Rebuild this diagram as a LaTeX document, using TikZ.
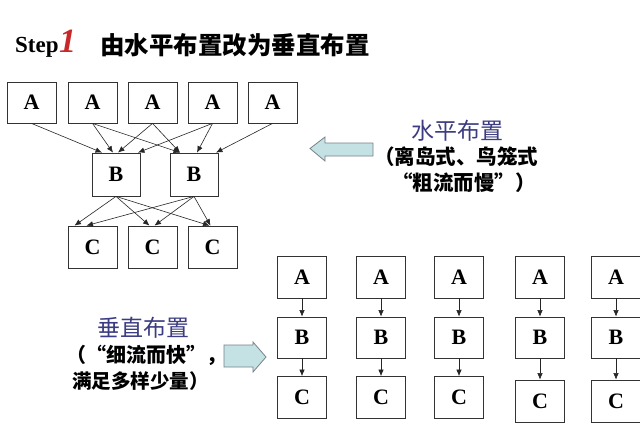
\documentclass[tikz,border=0pt]{standalone}
\usepackage{fontspec}
\setmainfont{Liberation Serif}
\newfontfamily\cjk{Noto Sans CJK SC}
\usetikzlibrary{arrows.meta}
\definecolor{labblue}{RGB}{60,60,130}
\definecolor{arrfill}{RGB}{196,226,228}
\definecolor{arrline}{RGB}{120,130,135}
\definecolor{stepred}{RGB}{200,40,40}
\tikzset{
  box/.style={draw=black!80, line width=0.8pt, minimum width=49pt, minimum height=41pt, inner sep=0pt,
    font=\fontsize{22}{22}\selectfont\bfseries},
  conn/.style={draw=black!85, line width=0.6pt, -{Latex[length=6.5pt,width=5.5pt]}},
  blockarrow/.style={draw=arrline, fill=arrfill, line width=0.8pt, line join=miter},
  cjklab/.style={font=\cjk\fontsize{20.5}{24}\selectfont\bfseries, align=center, inner sep=0pt},
  cjkblue/.style={font=\cjk\fontsize{23}{24}\selectfont, text=labblue, inner sep=0pt}
}
\begin{document}
\begin{tikzpicture}[x=1pt,y=-1pt]
\useasboundingbox (0,0) rectangle (640,426);
\fill[white] (0,0) rectangle (640,426);
% title
\node[anchor=base west, inner sep=0pt, font=\fontsize{23}{23}\selectfont\bfseries] (step) at (15,52) {Step};
\node[anchor=base west, inner sep=0pt, font=\fontsize{34}{34}\selectfont\bfseries\itshape, text=stepred] (one) at (step.base east) {1};
\node[anchor=west, inner sep=0pt, font=\cjk\fontsize{24.5}{24}\selectfont\bfseries] (title) at (100,45) {由水平布置改为垂直布置};
% horizontal layout
\foreach \i/\x in {1/31.5,2/92.5,3/152.5,4/212.5,5/272.5}
  \node[box] (a\i) at (\x,102.5) {A};
\node[box, minimum width=48pt, minimum height=43pt] (b1) at (116,174.5) {B};
\node[box, minimum width=48pt, minimum height=43pt] (b2) at (194,174.5) {B};
\foreach \i/\x in {1/92.5,2/152.5,3/212.5}
  \node[box, minimum height=42pt] (c\i) at (\x,247) {C};
% A -> B edges
\draw[conn] (a1.south) -- ([xshift=-14pt]b1.north);
\draw[conn] (a2.south) -- ([xshift=-3pt]b1.north);
\draw[conn] (a3.south) -- ([xshift=2pt]b1.north);
\draw[conn] (a4.south) -- ([xshift=22pt]b1.north);
\draw[conn] (a2.south) -- ([xshift=-14pt]b2.north);
\draw[conn] (a3.south) -- ([xshift=-14pt]b2.north);
\draw[conn] (a4.south) -- ([xshift=3pt]b2.north);
\draw[conn] (a5.south) -- ([xshift=22pt]b2.north);
% B -> C edges
\draw[conn] (b1.south) -- ([xshift=-18pt]c1.north);
\draw[conn] (b1.south) -- ([xshift=-3pt]c2.north);
\draw[conn] (b1.south) -- ([xshift=-3pt]c3.north);
\draw[conn] (b2.south) -- ([xshift=-6pt]c1.north);
\draw[conn] (b2.south) -- ([xshift=2pt]c2.north);
\draw[conn] (b2.south) -- ([xshift=-2pt]c3.north);
% right label
\node[cjkblue] (hlab) at (457,131) {水平布置};
\node[cjklab, anchor=west] (hl1) at (374,157) {（离岛式、鸟笼式};
\node[cjklab, anchor=west] (hl2) at (392,183) {“粗流而慢”）};
\draw[blockarrow] (310,148.5) -- (325,137) -- (325,143) -- (373,143) -- (373,156) -- (325,156) -- (325,161) -- cycle;
% left label
\node[cjkblue] (vlab) at (143,328) {垂直布置};
\node[cjklab, anchor=west, font=\cjk\fontsize{20}{24}\selectfont\bfseries] (vl1) at (66,355) {（“细流而快”，};
\node[cjklab, anchor=west, font=\cjk\fontsize{19.5}{24}\selectfont\bfseries] (vl2) at (72,381) {满足多样少量）};
\draw[blockarrow] (224,345) -- (253,345) -- (253,342) -- (266,357) -- (253,372) -- (253,367) -- (224,367) -- cycle;
% vertical layout
\foreach \i/\x/\cy in {1/302/397.5,2/381/397.5,3/459/397.5,4/540/401,5/616/401}{
  \node[box, minimum height=42pt] (va\i) at (\x,277) {A};
  \node[box, minimum height=41pt] (vb\i) at (\x,337.5) {B};
  \node[box, minimum height=42pt] (vc\i) at (\x,\cy) {C};
  \draw[conn] (va\i.south) -- (vb\i.north);
  \draw[conn] (vb\i.south) -- (vc\i.north);
}
\end{tikzpicture}
\end{document}
